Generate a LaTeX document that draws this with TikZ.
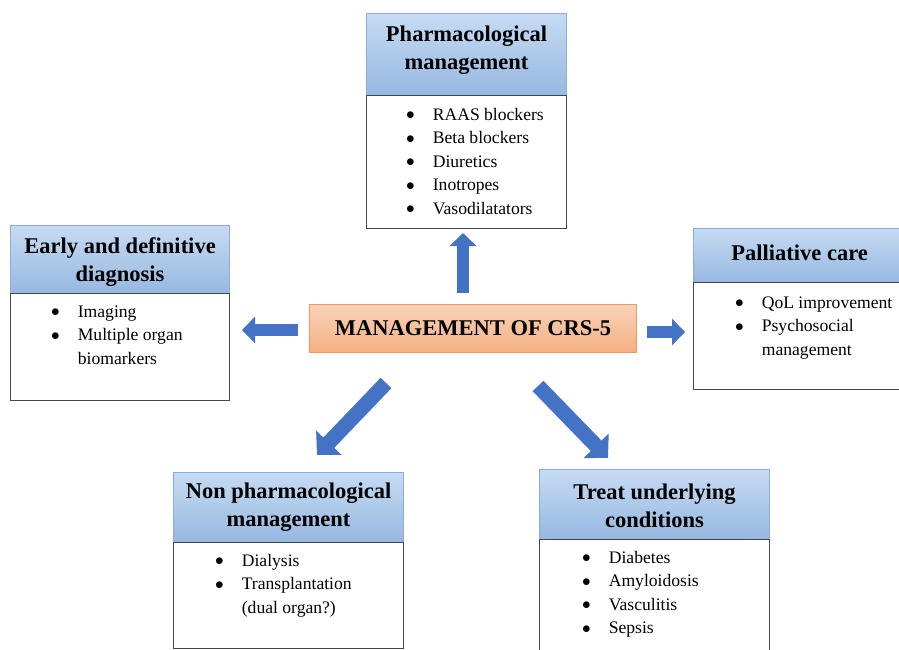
\documentclass[tikz,border=0pt]{standalone}
\usepackage{fontspec}
\IfFontExistsTF{LiberationSerif-Regular.ttf}{\setmainfont{LiberationSerif}[Extension=.ttf,UprightFont=*-Regular,BoldFont=*-Bold,ItalicFont=*-Italic,BoldItalicFont=*-BoldItalic]}{\setmainfont{DejaVu Serif}}
\usetikzlibrary{arrows.meta}
\definecolor{hdtop}{RGB}{198,219,243}
\definecolor{hdbot}{RGB}{150,184,224}
\definecolor{hdedge}{RGB}{140,172,220}
\definecolor{bodyedge}{RGB}{70,70,70}
\definecolor{ortop}{RGB}{249,210,184}
\definecolor{orbot}{RGB}{244,176,130}
\definecolor{oredge}{RGB}{240,150,95}
\definecolor{arrblue}{RGB}{68,114,196}
\newcommand\hdfont{\fontsize{22.5}{28}\selectfont\bfseries}
\newcommand\itfont{\fontsize{17.6}{23.5}\selectfont}
\newcommand\bul{\raisebox{0.05ex}{$\bullet$}}
\newcommand\blist[1]{\begin{tabular}{@{}c@{\hspace{18pt}}l@{}}#1\end{tabular}}
\begin{document}
\begin{tikzpicture}[x=1pt,y=-1pt,
  hdbox/.style={draw=hdedge, line width=1.2pt, top color=hdtop, bottom color=hdbot, anchor=north west, inner sep=0pt},
  bodybox/.style={draw=bodyedge, line width=1.3pt, fill=white, anchor=north west, inner sep=0pt},
  hdtext/.style={align=center, font=\hdfont, inner sep=0pt},
  listtext/.style={anchor=north west, font=\itfont, inner sep=0pt},
  blockarrow/.style={arrblue, line width=12pt, -{Triangle[length=13pt,width=26pt]}},
  diagarrow/.style={arrblue, line width=15pt, -{Triangle[length=17pt,width=34pt]}}]
\useasboundingbox (0,0) rectangle (899,650);

% headers
\node[hdbox, minimum width=200pt, minimum height=82pt] (pharmaH) at (366,13) {};
\node[hdbox, minimum width=219pt, minimum height=68pt] (earlyH) at (10,225) {};
\node[hdbox, minimum width=212pt, minimum height=54pt] (palH) at (693,228) {};
\node[hdbox, minimum width=230pt, minimum height=70pt] (nonH) at (173,472) {};
\node[hdbox, minimum width=230pt, minimum height=70pt] (treatH) at (539,469) {};

% bodies
\node[bodybox, minimum width=200pt, minimum height=133pt] (pharmaB) at (366,95) {};
\node[bodybox, minimum width=219pt, minimum height=107pt] (earlyB) at (10,293) {};
\node[bodybox, minimum width=212pt, minimum height=107pt] (palB) at (693,282) {};
\node[bodybox, minimum width=230pt, minimum height=106pt] (nonB) at (173,542) {};
\node[bodybox, minimum width=230pt, minimum height=118pt] (treatB) at (539,539) {};

% header texts
\node[hdtext] (pharmaT) at ([yshift=4pt]pharmaH.center) {Pharmacological\\management};
\node[hdtext] (earlyT) at ([yshift=-2pt]earlyH.center) {Early and definitive\\diagnosis};
\node[hdtext] (palT) at ([yshift=3pt]palH.center) {Palliative care};
\node[hdtext] (nonT) at (nonH.center) {Non pharmacological\\management};
\node[hdtext] (treatT) at ([yshift=-1pt]treatH.center) {Treat underlying\\conditions};

% lists
\node[listtext] (pharmaL) at (406,103.5) {\blist{\bul & RAAS blockers\\ \bul & Beta blockers\\ \bul & Diuretics\\ \bul & Inotropes\\ \bul & Vasodilatators}};
\node[listtext] (earlyL) at (51,300.5) {\blist{\bul & Imaging\\ \bul & Multiple organ\\ & biomarkers}};
\node[listtext] (palL) at (735,291.5) {\blist{\bul & QoL improvement\\ \bul & Psychosocial\\ & management}};
\node[listtext] (nonL) at (215,549.5) {\blist{\bul & Dialysis\\ \bul & Transplantation\\ & (dual organ?)}};
\node[listtext] (treatL) at (582,546.5) {\blist{\bul & Diabetes\\ \bul & Amyloidosis\\ \bul & Vasculitis\\ \bul & Sepsis}};

% centre
\node[draw=oredge, line width=1.2pt, top color=ortop, bottom color=orbot, minimum width=327pt, minimum height=48pt, anchor=north west, inner sep=0pt, font=\hdfont] (main) at (309,304) {MANAGEMENT OF CRS-5};

% arrows
\coordinate (upS) at (463,293);
\coordinate (upE) at (463,233);
\coordinate (leftS) at (298,330);
\coordinate (leftE) at (242,330);
\coordinate (rightS) at (647,332);
\coordinate (rightE) at (685,332);
\coordinate (dlS) at (386,383);
\coordinate (dlE) at (317,455);
\coordinate (drS) at (538,386);
\coordinate (drE) at (608,458);
\draw[blockarrow] (upS) -- (upE);
\draw[blockarrow] (leftS) -- (leftE);
\draw[blockarrow] (rightS) -- (rightE);
\draw[diagarrow] (dlS) -- (dlE);
\draw[diagarrow] (drS) -- (drE);
\end{tikzpicture}
\end{document}
